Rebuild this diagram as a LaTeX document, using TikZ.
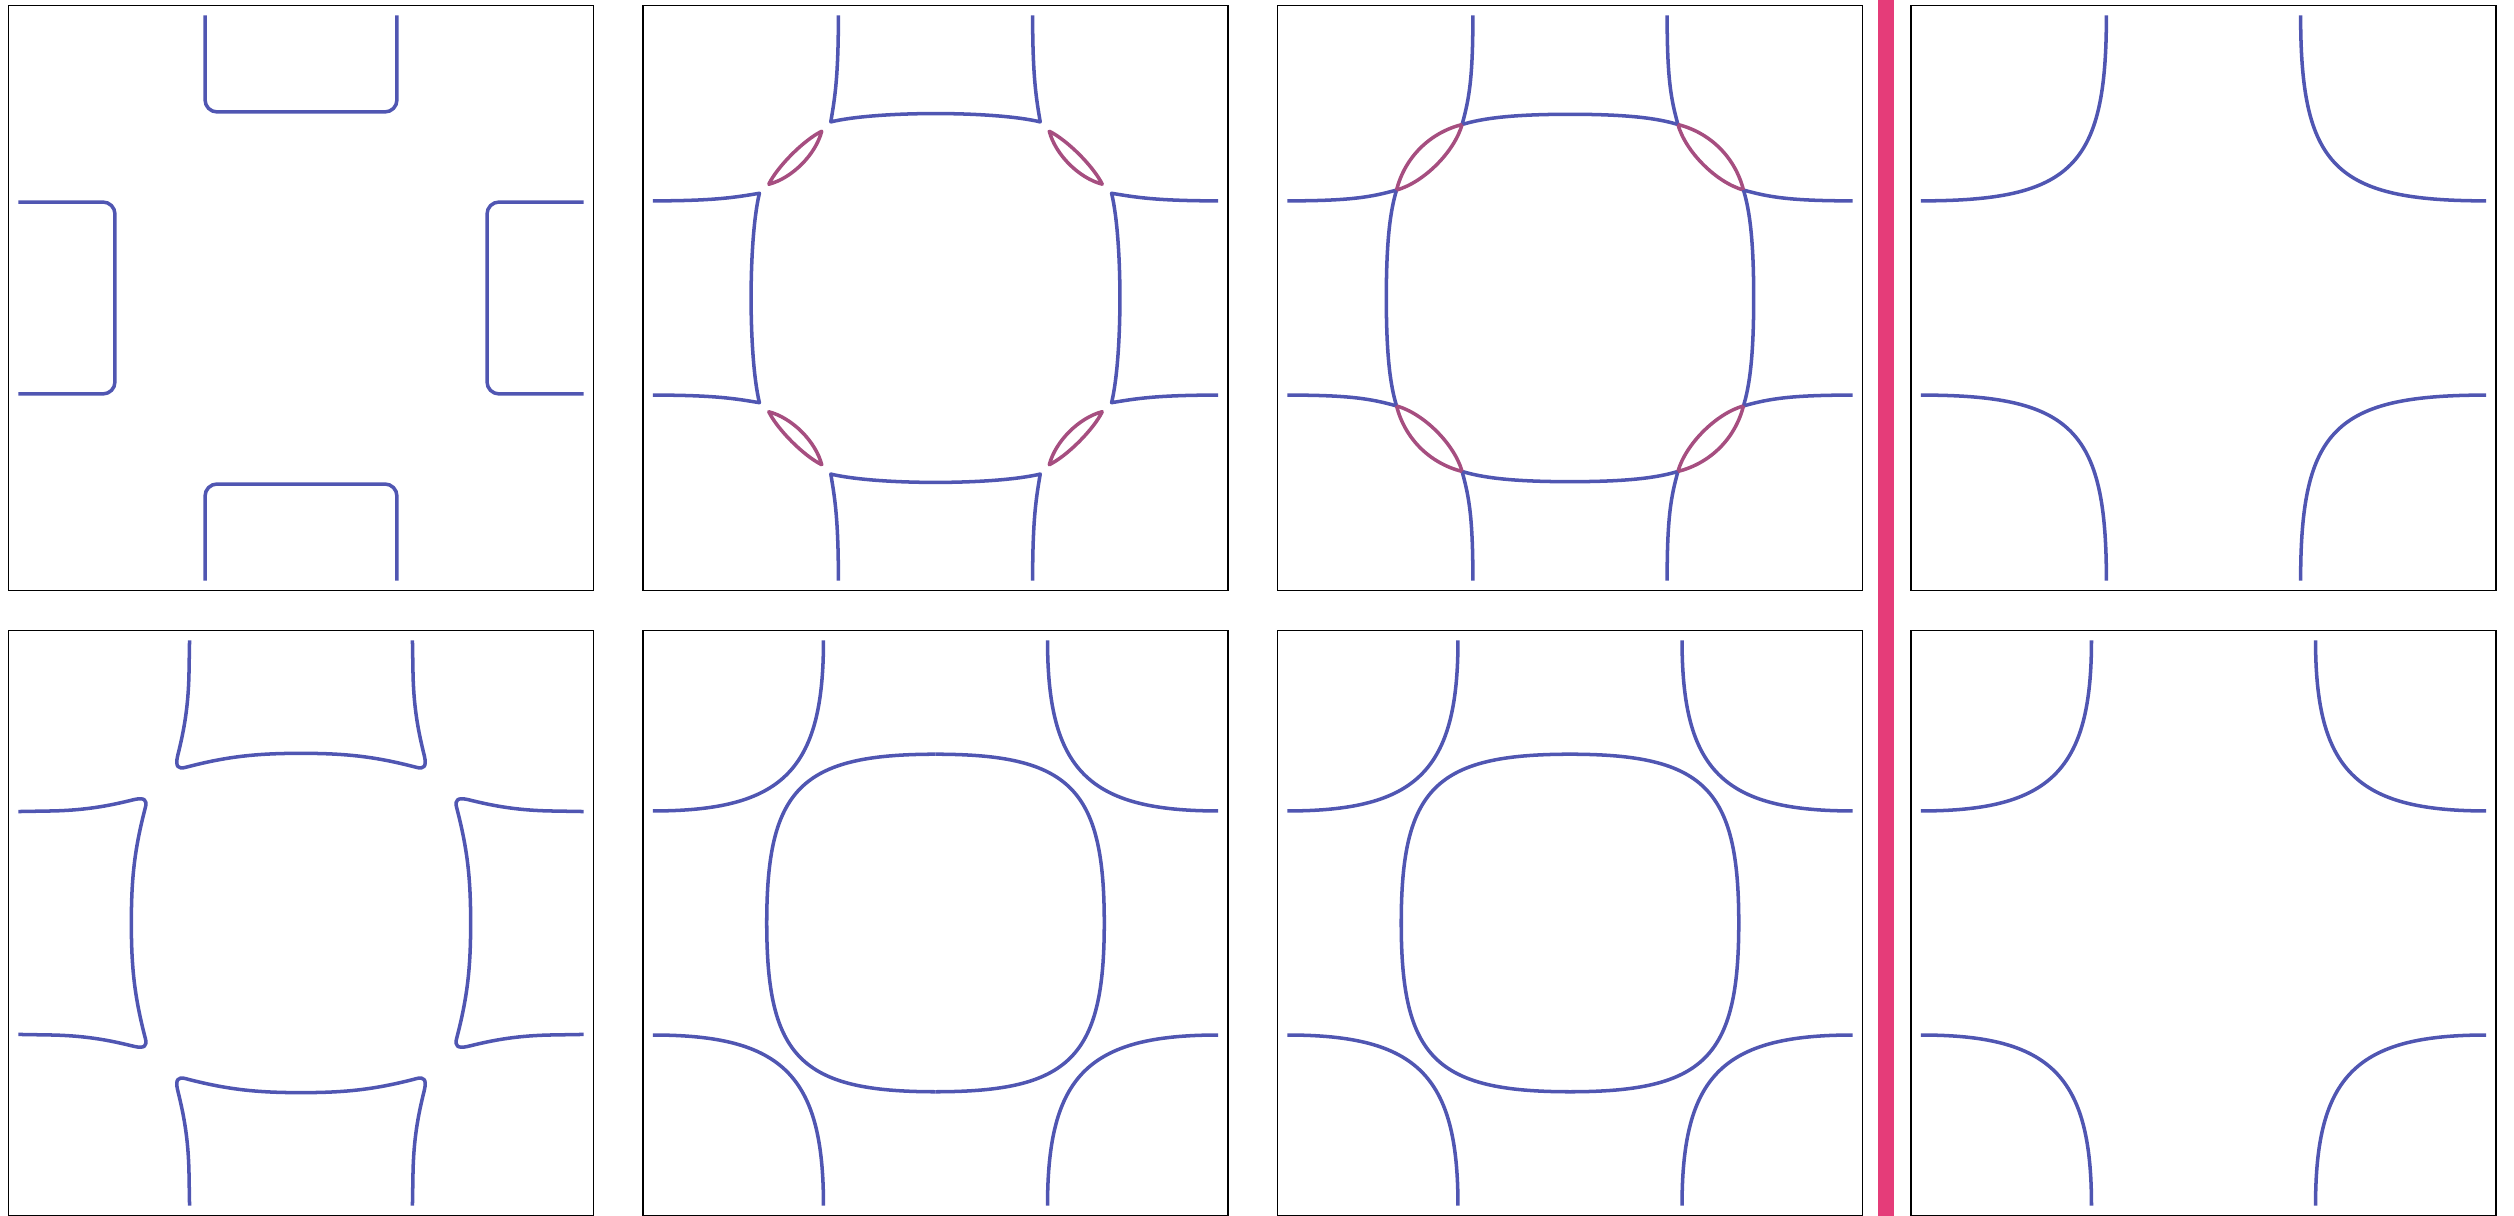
\documentclass[tikz,border=0pt]{standalone}
\usepackage{tikz}
\definecolor{fsblue}{RGB}{80,86,178}
\definecolor{hybmauve}{RGB}{166,78,128}
\definecolor{barpink}{RGB}{229,60,121}

\begin{document}
\begin{tikzpicture}[
    fs/.style={draw=fsblue, line width=1pt, line join=round, line cap=butt},
    hyb/.style={draw=hybmauve, line width=1pt, line join=round},
    frame/.style={draw=black, line width=0.45pt},
    panel/.style={shift={#1}, scale=2.925}
]
\useasboundingbox (0,0) rectangle (25.14,12.16);

% top row
\begin{scope}[panel={(3.01,9.18)}]
\draw[frame] (-1,-1) rectangle (1,1);
\foreach \r in {0,90,180,270}
    \draw[fs, rotate=\r, rounded corners=1.2mm] (-0.328,0.966) -- (-0.328,0.636) -- (0.328,0.636) -- (0.328,0.966);
\end{scope}

\begin{scope}[panel={(9.355,9.18)}]
\draw[frame] (-1,-1) rectangle (1,1);
\foreach \r in {0,90,180,270} {
    \draw[fs, rotate=\r] (-0.332,0.966) .. controls (-0.332,0.75) and (-0.345,0.68) .. (-0.358,0.602)
        .. controls (-0.2,0.64) and (0.2,0.64) .. (0.358,0.602)
        .. controls (0.345,0.68) and (0.332,0.75) .. (0.332,0.966);
    \draw[hyb, rotate=\r] (0.389,0.570) .. controls (0.45,0.54) and (0.54,0.45) .. (0.570,0.389)
        .. controls (0.49,0.41) and (0.41,0.49) .. cycle;
}
\end{scope}

\begin{scope}[panel={(15.70,9.18)}]
\draw[frame] (-1,-1) rectangle (1,1);
\foreach \r in {0,90,180,270} {
    \draw[fs, rotate=\r] (0.332,0.966) .. controls (0.332,0.75) and (0.345,0.68) .. (0.369,0.593);
    \draw[fs, rotate=\r] (0.593,0.369) .. controls (0.68,0.345) and (0.75,0.332) .. (0.966,0.332);
    \draw[fs, rotate=\r] (-0.369,0.593) .. controls (-0.30,0.614) and (-0.2,0.628) .. (0,0.628)
        .. controls (0.2,0.628) and (0.30,0.614) .. (0.369,0.593);
    \draw[hyb, rotate=\r] (0.369,0.593) .. controls (0.395,0.5) and (0.5,0.395) .. (0.593,0.369);
    \draw[hyb, rotate=\r] (0.369,0.593) .. controls (0.48,0.565) and (0.565,0.48) .. (0.593,0.369);
}
\end{scope}

\fill[barpink] (18.78,0) rectangle (18.94,12.16);

\begin{scope}[panel={(22.035,9.18)}]
\draw[frame] (-1,-1) rectangle (1,1);
\foreach \r in {0,90,180,270}
    \draw[fs, rotate=\r] (0.332,0.966) .. controls (0.332,0.449) and (0.449,0.332) .. (0.966,0.332);
\end{scope}

% bottom row
\begin{scope}[panel={(3.01,2.93)}]
\draw[frame] (-1,-1) rectangle (1,1);
\foreach \r in {0,90,180,270}
    \draw[fs, rotate=\r] (-0.381,0.966) -- (-0.383,0.85) .. controls (-0.386,0.72) and (-0.405,0.64) .. (-0.422,0.57)
        .. controls (-0.43,0.535) and (-0.42,0.525) .. (-0.395,0.532)
        .. controls (-0.25,0.57) and (-0.15,0.58) .. (0,0.58)
        .. controls (0.15,0.58) and (0.25,0.57) .. (0.395,0.532)
        .. controls (0.42,0.525) and (0.43,0.535) .. (0.422,0.57)
        .. controls (0.405,0.64) and (0.386,0.72) .. (0.383,0.85) -- (0.381,0.966);
\end{scope}

\begin{scope}[panel={(9.355,2.93)}]
\draw[frame] (-1,-1) rectangle (1,1);
\foreach \r in {0,90,180,270} {
    \draw[fs, rotate=\r] (0.383,0.966) .. controls (0.383,0.522) and (0.522,0.383) .. (0.966,0.383);
    \draw[fs, rotate=\r] (0,0.577) .. controls (0.46,0.577) and (0.577,0.46) .. (0.577,0);
}
\end{scope}

\begin{scope}[panel={(15.70,2.93)}]
\draw[frame] (-1,-1) rectangle (1,1);
\foreach \r in {0,90,180,270} {
    \draw[fs, rotate=\r] (0.383,0.966) .. controls (0.383,0.522) and (0.522,0.383) .. (0.966,0.383);
    \draw[fs, rotate=\r] (0,0.577) .. controls (0.46,0.577) and (0.577,0.46) .. (0.577,0);
}
\end{scope}

\begin{scope}[panel={(22.035,2.93)}]
\draw[frame] (-1,-1) rectangle (1,1);
\foreach \r in {0,90,180,270}
    \draw[fs, rotate=\r] (0.383,0.966) .. controls (0.383,0.522) and (0.522,0.383) .. (0.966,0.383);
\end{scope}
\end{tikzpicture}
\end{document}
